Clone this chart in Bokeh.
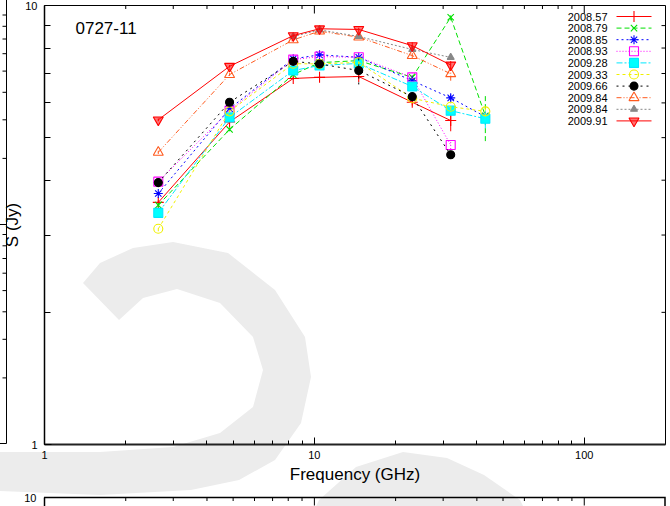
from urllib.parse import quote

import numpy as np
from bokeh.plotting import figure
from bokeh.layouts import column
from bokeh.models import Range1d, LinearScale, FixedTicker, PrintfTickFormatter
from bokeh.core.properties import value
from bokeh.embed import file_html
from bokeh.resources import INLINE

FONT = "Liberation Sans"
nan = float("nan")

# ---------------------------------------------------------------- data
freq_ghz = [2.64, 4.85, 8.35, 10.45, 14.60, 23.05, 32.00, 43.00]

epochs = ["2008.57", "2008.79", "2008.85", "2008.93", "2009.28",
          "2009.33", "2009.66", "2009.84", "2009.84", "2009.91"]

flux_2008_57 = [3.56, 5.43, 6.82, 6.86, 6.89, 6.02, 5.47, nan]
flux_2008_79 = [3.51, 5.22, 6.96, 7.41, 7.49, 6.86, 9.40, 5.61]
flux_2008_85 = [3.73, 5.82, 7.56, 7.72, 7.62, 6.74, 6.16, 5.58]
flux_2008_93 = [3.97, 5.76, 7.53, 7.65, 7.62, 6.86, 4.81, nan]
flux_2009_28 = [3.37, 5.56, 7.11, 7.30, 7.38, 6.54, 5.76, 5.52]
flux_2009_33 = [3.10, 5.74, 7.37, 7.36, 7.42, 6.15, 5.88, 5.74]
flux_2009_66 = [3.95, 6.02, 7.46, 7.36, 7.11, 6.20, 4.57, nan]
flux_2009_84a = [4.63, 6.96, 8.35, 8.74, 8.47, 7.69, 6.99, nan]
flux_2009_84b = [nan, nan, 8.50, 8.80, 8.50, 7.94, 7.62, nan]
flux_2009_91 = [5.49, 7.27, 8.54, 8.85, 8.82, 8.10, 7.32, nan]

err_2008_57 = [0.04, 0.05, 0.05, 0.05, 0.08, 0.10, 0.30, 0.0]
err_2008_79 = [0.04, 0.05, 0.06, 0.06, 0.08, 0.10, 0.15, 0.70]
err_2008_85 = [0.04, 0.05, 0.06, 0.06, 0.08, 0.08, 0.12, 0.15]
err_2008_93 = [0.04, 0.05, 0.06, 0.06, 0.08, 0.17, 0.10, 0.0]
err_2009_28 = [0.04, 0.05, 0.06, 0.06, 0.08, 0.08, 0.12, 0.27]
err_2009_33 = [0.04, 0.05, 0.06, 0.06, 0.08, 0.08, 0.10, 0.15]
err_2009_66 = [0.04, 0.05, 0.06, 0.06, 0.50, 0.10, 0.10, 0.0]
err_2009_84a = [0.04, 0.05, 0.06, 0.06, 0.08, 0.10, 0.25, 0.0]
err_2009_84b = [0.0, 0.0, 0.06, 0.06, 0.08, 0.10, 0.10, 0.0]
err_2009_91 = [0.04, 0.05, 0.06, 0.06, 0.08, 0.15, 0.15, 0.0]

series = [flux_2008_57, flux_2008_79, flux_2008_85, flux_2008_93, flux_2009_28,
          flux_2009_33, flux_2009_66, flux_2009_84a, flux_2009_84b, flux_2009_91]
errors = [err_2008_57, err_2008_79, err_2008_85, err_2008_93, err_2009_28,
          err_2009_33, err_2009_66, err_2009_84a, err_2009_84b, err_2009_91]

x_ticks = [1, 10, 100]
x_minor_ticks = [2, 3, 4, 5, 6, 7, 8, 9, 20, 30, 40, 50, 60, 70, 80, 90]
y_ticks = [1, 10]
y_minor_ticks = [2, 3, 4, 5, 6, 7, 8, 9]

# ---------------------------------------------------------------- styles
styles = [
    dict(color="#ff0000", dash="solid",       marker="cross",             size=11, fill=None),
    dict(color="#00e000", dash="5 3",         marker="x",                 size=9,  fill=None),
    dict(color="#0000ff", dash="2 3",         marker="asterisk",          size=9,  fill=None),
    dict(color="#ff00ff", dash="1 2",         marker="square",            size=9,  fill=None),
    dict(color="#00e8ff", dash="6 2 2 2",     marker="square",            size=9,  fill="#00ffff"),
    dict(color="#f0f000", dash="3 3",         marker="circle",            size=9,  fill=None),
    dict(color="#000000", dash="2 4",         marker="circle",            size=8,  fill="#000000"),
    dict(color="#ff5a1e", dash="5 2 1 2 1 2", marker="triangle",          size=10, fill=None),
    dict(color="#888888", dash="2 2",         marker="triangle",          size=7,  fill="#888888"),
    dict(color="#ff0000", dash="solid",       marker="inverted_triangle", size=10, fill="#ff0000"),
]

# page geometry (pixels)
W, H_MAIN, H_LOW = 670, 486, 20
FL, FR, FT, FB = 44, 665, 5, 444          # main frame edges
LOW_TOP = 497                              # lower panel frame top
DECADE_Y = FB - FT                         # pixels per decade in flux

# ---------------------------------------------------------------- page backdrop
# light-grey background lettering, the neighbouring panel's right edge and the
# outline of the panel below, painted behind the (transparent) canvases
hook_x = [83, 100, 133, 173, 228, 275, 305, 311, 301, 275, 239, 191, 100, 0,
          0, 100, 173, 220, 253, 263, 253, 220, 177, 143, 119]
hook_y = [283, 263, 248, 242, 253, 290, 337, 377, 423, 460, 480, 490, 495, 491,
          452, 452, 447, 433, 407, 370, 337, 303, 289, 298, 320]
arch_x = [305, 319, 356, 403, 447, 484, 520, 535]
arch_y = [530, 500, 467, 452, 458, 475, 500, 530]


def svg_path(xs, ys, close=True):
    d = "M" + " L".join(f"{x:.1f},{y:.1f}" for x, y in zip(xs, ys))
    return d + (" Z" if close else "")


STUB_X = 6.5
stub_dec = DECADE_Y / 2.0
stub_d = [f"M0,{FB - 0.5} L{STUB_X},{FB - 0.5} L{STUB_X},0"]
for dec in range(2):
    for k in range(9, 1, -1):
        ty = FT + stub_dec * (dec + np.log10(10.0 / k))
        stub_d.append(f"M{STUB_X},{ty:.1f} L{STUB_X - 4},{ty:.1f}")
ty = FT + stub_dec
stub_d.append(f"M{STUB_X},{ty:.1f} L{STUB_X - 7},{ty:.1f}")

backdrop = (
    f"<svg xmlns='http://www.w3.org/2000/svg' width='{W}' height='{H_MAIN + H_LOW}'>"
    f"<path d='{svg_path(hook_x, hook_y)}' fill='rgb(236,236,236)'/>"
    f"<path d='{svg_path(arch_x, arch_y)}' fill='rgb(236,236,236)'/>"
    f"<path d='{' '.join(stub_d)}' fill='none' stroke='black' stroke-width='1'/>"
    f"<path d='M{FL},{LOW_TOP + 0.5} L{FR},{LOW_TOP + 0.5} L{FR},{H_MAIN + H_LOW + 5}' "
    f"fill='none' stroke='black' stroke-width='1.5'/>"
    "</svg>"
)
backdrop_css = {
    "background-image": f"url(\"data:image/svg+xml;charset=utf-8,{quote(backdrop)}\")",
    "background-repeat": "no-repeat",
    "background-position": "0 0",
    "background-color": "white",
}


def style_axis(ax, minor_in=4):
    ax.major_tick_in = 7
    ax.major_tick_out = 0
    ax.minor_tick_in = minor_in
    ax.minor_tick_out = 0
    ax.axis_line_color = "black"
    ax.major_tick_line_color = "black"
    ax.minor_tick_line_color = "black"
    ax.major_label_text_font = FONT
    ax.major_label_text_font_size = "11px"
    ax.major_label_text_color = "black"


def pixel_ranges(fig, top, bottom):
    fig.extra_x_ranges = {"px_x": Range1d(FL, FR)}
    fig.extra_y_ranges = {"px_y": Range1d(bottom, top)}
    fig.extra_x_scales = {"px_x": LinearScale()}
    fig.extra_y_scales = {"px_y": LinearScale()}


def top_ticks(fig, top):
    # inward tick marks along the upper frame edge
    fig.segment(x0=x_ticks[1:], x1=x_ticks[1:], y0=[top] * 2, y1=[top + 8] * 2,
                y_range_name="px_y", line_color="black", line_width=1)
    n = len(x_minor_ticks)
    fig.segment(x0=x_minor_ticks, x1=x_minor_ticks, y0=[top] * n, y1=[top + 3.5] * n,
                y_range_name="px_y", line_color="black", line_width=1)


# ---------------------------------------------------------------- main panel
p = figure(width=W, height=H_MAIN, x_axis_type="log", y_axis_type="log",
           x_range=Range1d(1, 200), y_range=Range1d(1, 10),
           output_backend="svg", toolbar_location=None,
           min_border_left=FL, min_border_right=W - FR,
           min_border_top=FT, min_border_bottom=H_MAIN - FB)
pixel_ranges(p, FT, FB)
p.xgrid.visible = False
p.ygrid.visible = False
p.outline_line_color = "black"
p.outline_line_width = 1
p.background_fill_color = None
p.border_fill_color = None

p.xaxis.ticker = FixedTicker(ticks=x_ticks, minor_ticks=x_minor_ticks)
p.xaxis.formatter = PrintfTickFormatter(format="%d")
style_axis(p.xaxis[0], minor_in=4)
p.xaxis.axis_line_width = 2
p.xaxis.axis_line_color = "#222222"
p.xaxis.major_label_standoff = 6
p.xaxis.axis_label = "Frequency (GHz)"
p.xaxis.axis_label_text_font = FONT
p.xaxis.axis_label_text_font_size = "17px"
p.xaxis.axis_label_text_font_style = "normal"
p.xaxis.axis_label_text_color = "black"
p.xaxis.axis_label_standoff = 3

p.yaxis.ticker = FixedTicker(ticks=y_ticks, minor_ticks=y_minor_ticks)
p.yaxis.formatter = PrintfTickFormatter(format="%d")
style_axis(p.yaxis[0], minor_in=6)
p.yaxis.axis_line_width = 1.5
p.yaxis.major_label_standoff = 7
p.yaxis.axis_label = "S (Jy)"
p.yaxis.axis_label_text_font = FONT
p.yaxis.axis_label_text_font_size = "17px"
p.yaxis.axis_label_text_font_style = "normal"
p.yaxis.axis_label_text_color = "black"
p.yaxis.axis_label_standoff = 0

top_ticks(p, FT)

# inward ticks along the right frame edge
p.segment(x0=[FR] * 2, x1=[FR - 8] * 2, y0=y_ticks, y1=y_ticks,
          x_range_name="px_x", line_color="black", line_width=1)
p.segment(x0=[FR] * 8, x1=[FR - 4] * 8, y0=y_minor_ticks, y1=y_minor_ticks,
          x_range_name="px_x", line_color="black", line_width=1)

# spectra: lines, error bars and markers
for vals, errs, st in zip(series, errors, styles):
    v = np.array(vals, dtype=float)
    e = np.array(errs, dtype=float)
    p.line(freq_ghz, v, line_color=st["color"], line_dash=st["dash"], line_width=1)
    has = (e > 0) & ~np.isnan(v)
    f = np.array(freq_ghz)[has]
    p.segment(x0=f, y0=(v - e)[has], x1=f, y1=(v + e)[has],
              line_color=st["color"], line_dash=st["dash"], line_width=1)
    p.scatter(freq_ghz, v, marker=st["marker"], size=st["size"],
              line_color=st["color"], line_width=1.1,
              fill_color=st["fill"] if st["fill"] else None,
              fill_alpha=0.55 if st["marker"] == "inverted_triangle" else 1.0)

# source name
p.text(x=[75], y=[27], text=["0727-11"], x_range_name="px_x", y_range_name="px_y",
       text_font=value(FONT), text_font_size="17px", text_color="black",
       text_align="left", text_baseline="middle")

# key: label, sample line and marker, stacked in the upper right corner
for i, (lab, st) in enumerate(zip(epochs, styles)):
    ky = 16 + 11.6 * i
    p.line([616, 651], [ky, ky], x_range_name="px_x", y_range_name="px_y",
           line_color=st["color"], line_dash=st["dash"], line_width=1)
    p.scatter([633.5], [ky], x_range_name="px_x", y_range_name="px_y",
              marker=st["marker"], size=st["size"], line_color=st["color"],
              line_width=1.1, fill_color=st["fill"] if st["fill"] else None,
              fill_alpha=0.55 if st["marker"] == "inverted_triangle" else 1.0)
    p.text(x=[607], y=[ky], text=[lab], x_range_name="px_x", y_range_name="px_y",
           text_font=value(FONT), text_font_size="11px", text_color="black",
           text_align="right", text_baseline="middle")

# ---------------------------------------------------------------- next panel (top strip)
low_bottom = H_MAIN + H_LOW
low_y0 = 10 ** (1 - (low_bottom - LOW_TOP) / DECADE_Y)
q = figure(width=W, height=H_LOW, x_axis_type="log", y_axis_type="log",
           x_range=Range1d(1, 200), y_range=Range1d(low_y0, 10),
           x_axis_location=None, output_backend="svg", toolbar_location=None,
           min_border_left=FL, min_border_right=W - FR,
           min_border_top=LOW_TOP - H_MAIN, min_border_bottom=0)
pixel_ranges(q, LOW_TOP, low_bottom)
q.xgrid.visible = False
q.ygrid.visible = False
q.outline_line_color = None
q.background_fill_color = None
q.border_fill_color = None
q.yaxis.ticker = FixedTicker(ticks=[10], minor_ticks=[])
q.yaxis.formatter = PrintfTickFormatter(format="%d")
style_axis(q.yaxis[0])
q.yaxis.axis_line_width = 1.5
q.yaxis.major_label_standoff = 8
top_ticks(q, LOW_TOP)
q.text(x=[608], y=[511.5], text=["2007.45"], x_range_name="px_x", y_range_name="px_y",
       text_font=value(FONT), text_font_size="11px", text_color="black",
       text_align="right", text_baseline="alphabetic")

layout = column(p, q, spacing=0, styles=backdrop_css)
open("out.html", "w").write(file_html(layout, INLINE))
